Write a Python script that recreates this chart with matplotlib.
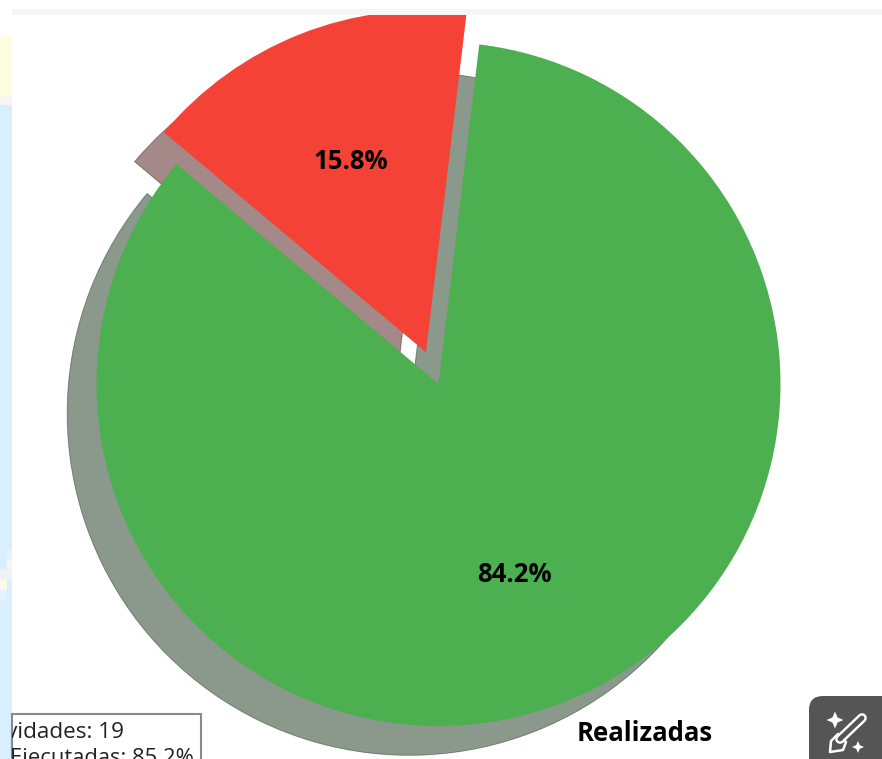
import matplotlib
matplotlib.use('Agg')
import matplotlib.pyplot as plt
from matplotlib.patches import Rectangle, FancyBboxPatch, Polygon

plt.rcParams['font.family'] = ['Open Sans', 'DejaVu Sans']

categories = ['Realizadas', '']
values = [16, 3]
colors = ['#4CAF50', '#F44336']
explode = [0, 0.1]
box_lines = ['Total de Actividades: 19', 'Ejecutadas: 85.2%']

W, H = 882, 759
cx, cy, r = 438.5, 384, 342
left, top = 12, 14

fig = plt.figure(figsize=(W / 100, H / 100), dpi=100, facecolor='white')

# pie axes stops at the page edges so the wedges get cut like the screenshot
ax = fig.add_axes([left / W, 0, (W - left) / W, (H - top) / H])
ax.pie(values, labels=categories, colors=colors, explode=explode, startangle=140,
       autopct='%1.1f%%', shadow={'ox': -0.0617, 'oy': -0.0617, 'linewidth': 0.6},
       textprops={'fontsize': 18.5, 'fontweight': 'bold', 'color': 'black'})
ax.set_xlim((left - cx) / r, (W - cx) / r)
ax.set_ylim((cy - H) / r, (cy - top) / r)

# everything around the chart, in screen pixels
over = fig.add_axes([0, 0, 1, 1], zorder=5)
over.set_xlim(0, W)
over.set_ylim(H, 0)
over.axis('off')

over.add_patch(Rectangle((left, 9), W - left, 5.5, fc='#F5F5F5', ec='none'))
over.add_patch(Rectangle((0, 35), left, 61, fc='#FFFDE0', ec='none'))
over.add_patch(Rectangle((0, 96), left, 9, fc='#F7F6F0', ec='none'))
over.add_patch(Rectangle((0, 105), left, H - 105, fc='#D9EFFF', ec='none'))
for x, y, w, h, c in [(7, 549, 5, 10, '#E8F0FC'), (7, 559, 5, 10, '#F8F6EC'),
                      (0, 569, 7, 11, '#EEF2F3'), (7, 569, 5, 11, '#F0F2FA'),
                      (0, 580, 7, 10, '#FDF8EC'), (0, 590, 7, 10, '#E6F2FE'),
                      (0, 600, 7, 10, '#DEEFFF')]:
    over.add_patch(Rectangle((x, y), w, h, fc=c, ec='none'))

# info box, cut by the left panel and the bottom of the image
over.add_patch(Rectangle((left, 713.5), 189, 60, fc='white', ec='#8A8A8A', lw=1.5, zorder=2))
clip = Rectangle((left, 700), W, 59, transform=over.transData)
t1 = over.text(124, 738, box_lines[0], ha='right', fontsize=16.2, color='#222222', zorder=3)
t2 = over.text(194, 764, box_lines[1], ha='right', fontsize=15.8, color='#222222', zorder=3)
for t in (t1, t2):
    t.set_clip_path(clip)
    t.set_clip_on(True)

# edit button
over.add_patch(FancyBboxPatch((809, 696), 100, 100, boxstyle='round,pad=0,rounding_size=14',
                              fc='#555555', ec='none'))
over.plot([862, 840], [718, 739], color='white', lw=7, solid_capstyle='round')
over.plot([862, 840], [718, 739], color='#555555', lw=3.5, solid_capstyle='round')
over.add_patch(Polygon([(838, 734), (846, 742), (843, 750), (830, 752), (831, 741)],
                       fc='#555555', ec='white', lw=1.8, joinstyle='round'))
for sx, sy, s in [(835, 720, 8.5), (858, 747, 6)]:
    over.add_patch(Polygon([(sx, sy - s), (sx + s * 0.3, sy - s * 0.3), (sx + s, sy),
                            (sx + s * 0.3, sy + s * 0.3), (sx, sy + s),
                            (sx - s * 0.3, sy + s * 0.3), (sx - s, sy),
                            (sx - s * 0.3, sy - s * 0.3)], fc='white', ec='none'))

fig.savefig('out.png', dpi=100)
